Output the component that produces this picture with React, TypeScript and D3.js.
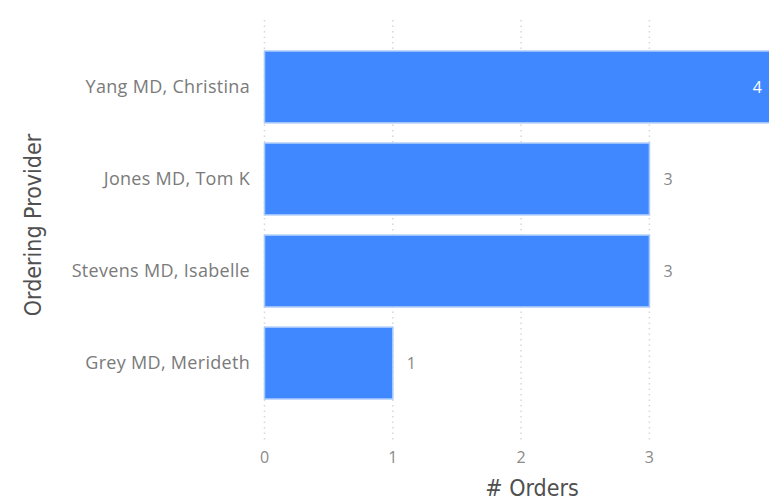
import React, { useRef, useEffect } from 'react';
import * as d3 from 'd3';

const providers = ['Yang MD, Christina', 'Jones MD, Tom K', 'Stevens MD, Isabelle', 'Grey MD, Merideth'];
const orders = [4, 3, 3, 1];
const xTicks = [0, 1, 2, 3];

const App = () => {
  const ref = useRef<SVGSVGElement | null>(null);

  useEffect(() => {
    const width = 769;
    const height = 502;
    const svg = d3.select(ref.current);
    svg.selectAll('*').remove();

    const x = d3.scaleLinear().domain([0, 4]).range([264.5, 777.7]);
    const y = d3
      .scaleBand<string>()
      .domain(providers)
      .range([33, 417])
      .paddingInner(0.22)
      .paddingOuter(0.196);

    // dotted gridlines
    svg
      .append('g')
      .selectAll('line')
      .data(xTicks)
      .join('line')
      .attr('x1', (d) => x(d))
      .attr('x2', (d) => x(d))
      .attr('y1', 20)
      .attr('y2', 440)
      .attr('stroke', '#d8d8d8')
      .attr('stroke-width', 1.5)
      .attr('stroke-dasharray', '1.5,4');

    // bars
    svg
      .append('g')
      .selectAll('rect')
      .data(providers)
      .join('rect')
      .attr('x', x(0))
      .attr('y', (d) => y(d)!)
      .attr('width', (d, i) => x(orders[i]) - x(0))
      .attr('height', y.bandwidth())
      .attr('fill', '#3f88ff')
      .attr('stroke', '#a9c8fb')
      .attr('stroke-width', 1.5);

    // data labels
    svg
      .append('g')
      .selectAll('text')
      .data(providers)
      .join('text')
      .attr('x', (d, i) => (x(orders[i]) > width ? width - 7 : x(orders[i]) + 14))
      .attr('y', (d) => y(d)! + y.bandwidth() / 2)
      .attr('dy', '0.35em')
      .attr('text-anchor', (d, i) => (x(orders[i]) > width ? 'end' : 'start'))
      .attr('fill', (d, i) => (x(orders[i]) > width ? '#ffffff' : '#888888'))
      .attr('font-family', 'Open Sans, sans-serif')
      .attr('font-size', 16)
      .text((d, i) => orders[i]);

    // y axis category labels
    svg
      .append('g')
      .selectAll('text')
      .data(providers)
      .join('text')
      .attr('x', 250)
      .attr('y', (d) => y(d)! + y.bandwidth() / 2)
      .attr('dy', '0.35em')
      .attr('text-anchor', 'end')
      .attr('fill', '#7a7a7a')
      .attr('font-family', 'Open Sans, sans-serif')
      .attr('font-size', 18)
      .attr('letter-spacing', 0.3)
      .text((d) => d);

    // x tick labels
    svg
      .append('g')
      .selectAll('text')
      .data(xTicks)
      .join('text')
      .attr('x', (d) => x(d))
      .attr('y', 457)
      .attr('dy', '0.35em')
      .attr('text-anchor', 'middle')
      .attr('fill', '#8a8a8a')
      .attr('font-family', 'Open Sans, sans-serif')
      .attr('font-size', 16)
      .text((d) => d);

    // axis titles
    svg
      .append('text')
      .attr('x', 532)
      .attr('y', 488)
      .attr('dy', '0.35em')
      .attr('text-anchor', 'middle')
      .attr('fill', '#505050')
      .attr('font-family', 'DejaVu Sans Condensed, DejaVu Sans, sans-serif')
      .attr('font-size', 23)
      .text('# Orders');

    svg
      .append('text')
      .attr('transform', 'translate(33, 225) rotate(-90)')
      .attr('dy', '0.35em')
      .attr('text-anchor', 'middle')
      .attr('fill', '#505050')
      .attr('font-family', 'DejaVu Sans Condensed, DejaVu Sans, sans-serif')
      .attr('font-size', 23)
      .text('Ordering Provider');

    svg.attr('width', width).attr('height', height);
  }, []);

  return (
    <svg
      ref={ref}
      style={{ position: 'absolute', left: 0, top: 0, display: 'block', background: '#fff' }}
    />
  );
};

export default App;
